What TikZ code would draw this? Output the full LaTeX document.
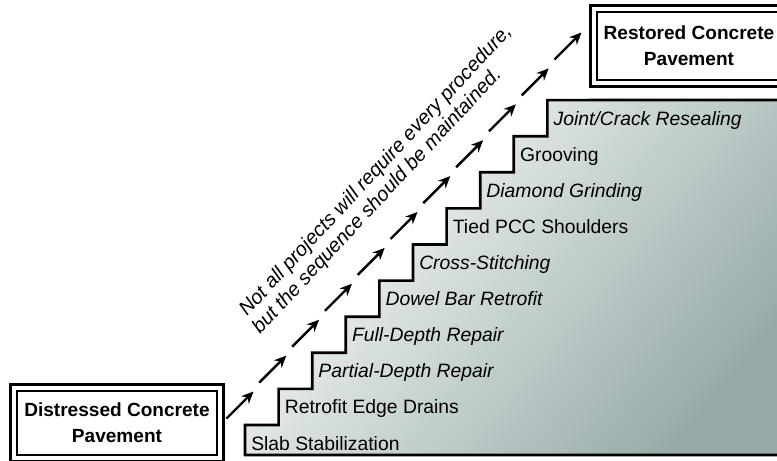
\documentclass[tikz,border=0pt]{standalone}
\usepackage{fontspec}
\setmainfont{Liberation Sans}
\usetikzlibrary{arrows.meta}
\definecolor{padwhite}{RGB}{252,253,252}
\definecolor{padgray}{RGB}{150,171,169}

\begin{document}
\begin{tikzpicture}[x=0.75pt,y=-0.75pt,
  stairline/.style={line width=2pt,line join=miter},
  steplabel/.style={anchor=base west,inner sep=0pt,font=\fontsize{14.5}{17}\selectfont},
  seqarrow/.style={line width=1.8pt,-{Stealth[length=9pt,width=8pt]}},
  notelabel/.style={anchor=base west,inner sep=0pt,rotate=47,font=\fontsize{15}{18}\selectfont\itshape},
  endbox/.style={draw,line width=0.9pt,align=center,inner sep=0pt,font=\fontsize{14.3}{19.5}\selectfont\bfseries}]
\path[use as bounding box] (0,0) rectangle (777,460);
\clip (0,0) rectangle (777,460);
% pavement under the steps
\shadedraw[stairline,top color=padwhite,bottom color=padgray,shading angle=50]
  (245,455) -- (245,425)
  \foreach \i in {1,...,9}{ -| ({245+33.6*\i},{425-36.1*\i}) }
  -- (790,100) -- (790,455) -- cycle;
% one label per step
\foreach \txt/\sh [count=\i from 0] in {Slab Stabilization/\upshape,
    Retrofit Edge Drains/\upshape, Partial-Depth Repair/\itshape,
    Full-Depth Repair/\itshape, Dowel Bar Retrofit/\itshape,
    Cross-Stitching/\itshape, Tied PCC Shoulders/\upshape,
    Diamond Grinding/\itshape, Grooving/\upshape,
    {Joint/Crack Resealing}/\itshape}
  \node[steplabel] (s\i) at ({251+33.6*\i},{450-36.1*\i}) {\sh\txt};
% arrows up the stairs
\foreach \i in {0,...,10}{
  \coordinate (t\i) at ({226.5+32.8*\i},{418.5-35.9*\i});
  \coordinate (h\i) at ({253.5+32.8*\i},{391.5-35.9*\i});
  \draw[seqarrow] (t\i) -- (h\i);
}
\node[notelabel] (note1) at (247,317) {Not all projects will require every procedure,};
\node[notelabel] (note2) at (260,335) {but the sequence should be maintained.};
% start and end boxes
\node[endbox,minimum width=150pt,minimum height=48pt] (dist) at (117,423) {Distressed Concrete\\Pavement};
\draw[line width=2.2pt] ([shift={(-5.5,-5.5)}]dist.north west) rectangle ([shift={(5.5,5.5)}]dist.south east);
\node[endbox,minimum width=138pt,minimum height=51pt] (rest) at (689,46) {Restored Concrete\\Pavement};
\draw[line width=2.2pt] ([shift={(-5.5,-5.5)}]rest.north west) rectangle ([shift={(5.5,5.5)}]rest.south east);
\end{tikzpicture}
\end{document}
